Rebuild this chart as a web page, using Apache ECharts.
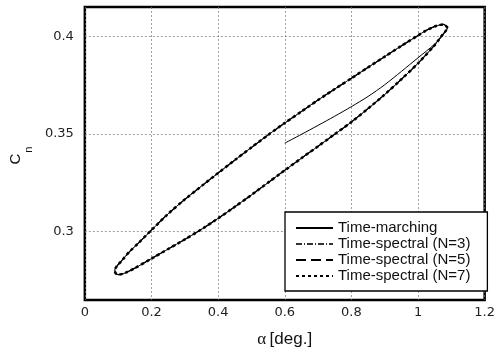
<!DOCTYPE html>
<html>
<head>
<meta charset="utf-8">
<script src="https://cdn.jsdelivr.net/npm/echarts@6/dist/echarts.min.js"></script>
<style>html,body{margin:0;padding:0;background:#fff}#c{width:498px;height:353px}</style>
</head>
<body>
<div id="c"></div>
<script>
// Periodic loop, starting at right tip, upper branch leftwards, lower branch rightwards
const loopAlpha = [1.089,1.076,1.050,1.021,1.000,0.950,0.900,0.850,0.800,0.750,0.700,0.650,0.600,0.550,0.500,0.450,0.400,0.350,0.300,0.250,0.200,0.160,0.135,0.110,0.097,0.090,0.092,0.100,0.120,0.150,0.200,0.250,0.300,0.350,0.400,0.450,0.500,0.550,0.600,0.650,0.700,0.750,0.800,0.850,0.900,0.950,1.000,1.050,1.070,1.083,1.089];
const loopCn    = [0.4044,0.4061,0.4050,0.4027,0.4004,0.3951,0.3896,0.3841,0.3785,0.3730,0.3674,0.3615,0.3556,0.3495,0.3431,0.3366,0.3300,0.3233,0.3165,0.3091,0.3008,0.2940,0.2899,0.2850,0.2825,0.2803,0.2788,0.2780,0.2788,0.2813,0.2862,0.2911,0.2960,0.3012,0.3068,0.3127,0.3188,0.3251,0.3314,0.3376,0.3437,0.3499,0.3561,0.3630,0.3702,0.3780,0.3862,0.3955,0.4000,0.4027,0.4044];
// Time-marching initial transient
const tmAlpha = [0.600,0.650,0.700,0.750,0.800,0.850,0.900,0.950,1.000,1.050,1.071,1.085];
const tmCn    = [0.3453,0.3498,0.3544,0.3591,0.3640,0.3692,0.3752,0.3820,0.3890,0.3960,0.4000,0.4032];

const xTicks = [0,0.2,0.4,0.6,0.8,1.0,1.2];
const yTicks = [0.3,0.35,0.4];
const names = ['Time-marching','Time-spectral (N=3)','Time-spectral (N=5)','Time-spectral (N=7)'];

const loop = loopAlpha.map((a,i)=>[a,loopCn[i]]);
const tm = tmAlpha.map((a,i)=>[a,tmCn[i]]).concat(loop);

const chart = echarts.init(document.getElementById('c'), null, {renderer:'canvas'});
const gridLine = {show:true, lineStyle:{color:'#777', width:0.7, type:[2,2]}};
const lab = {fontFamily:'DejaVu Sans', fontSize:13, color:'#222'};
chart.setOption({
  animation:false,
  grid:{left:83, right:11, top:7, bottom:50, show:true, borderColor:'#000', borderWidth:2.5, backgroundColor:'transparent'},
  xAxis:{type:'value', min:xTicks[0], max:xTicks[xTicks.length-1], interval:0.2,
    axisLine:{show:false}, axisTick:{show:false},
    axisLabel:Object.assign({margin:6, formatter:v=>String(+v.toFixed(2))}, lab),
    splitLine:gridLine,
    name:'{g|α} {t|[deg.]}', nameLocation:'middle', nameGap:31,
    nameTextStyle:{rich:{g:{fontFamily:'Liberation Serif', fontSize:17, color:'#111'}, t:{fontFamily:'Liberation Sans', fontSize:17, color:'#111'}}}
  },
  yAxis:{type:'value', min:0.265, max:0.415,
    axisLine:{show:false}, axisTick:{show:false, customValues:yTicks},
    axisLabel:Object.assign({margin:11, customValues:yTicks, formatter:v=>String(+v.toFixed(3))}, lab),
    splitLine:gridLine,
    name:'{c|C}{n|n}', nameLocation:'middle', nameGap:48, nameRotate:90,
    nameTextStyle:{rich:{
      c:{fontFamily:'Liberation Sans', fontSize:15, lineHeight:15, verticalAlign:'top', color:'#111'},
      n:{fontFamily:'Liberation Sans', fontSize:11, lineHeight:26, verticalAlign:'bottom', padding:[0,4,0,1], color:'#111'}
    }}
  },
  legend:{orient:'vertical', left:285, top:212, backgroundColor:'#fff', borderColor:'#000', borderWidth:1.3,
    padding:[8,17,7,10], itemWidth:37, itemHeight:14, itemGap:0,
    itemStyle:{opacity:0},
    textStyle:{fontFamily:'Liberation Sans', fontSize:15, lineHeight:16, color:'#111'}, data:names},
  series:[
    {name:names[0], type:'line', data:tm, symbol:'none', showSymbol:false, smooth:0.3, z:2,
      lineStyle:{color:'#000', width:1}, itemStyle:{color:'#000'}},
    {name:names[1], type:'line', data:loop, symbol:'none', showSymbol:false, smooth:0.3, z:3,
      lineStyle:{color:'#333', width:1, type:[6,2,1,2]}, itemStyle:{color:'#333'}},
    {name:names[2], type:'line', data:loop, symbol:'none', showSymbol:false, smooth:0.3, z:4,
      lineStyle:{color:'#000', width:1.3, type:[10,5]}, itemStyle:{color:'#000'}},
    {name:names[3], type:'line', data:loop, symbol:'none', showSymbol:false, smooth:0.3, z:5,
      lineStyle:{color:'#000', width:2.5, type:[3,3]}, itemStyle:{color:'#000'}}
  ]
});
</script>
</body>
</html>
